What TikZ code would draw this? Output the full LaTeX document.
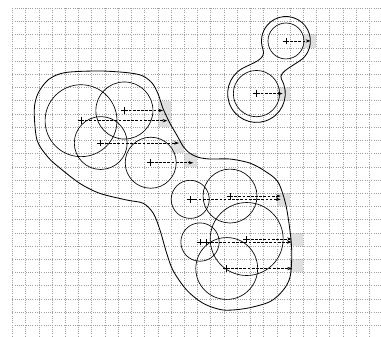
\documentclass[tikz,border=0pt]{standalone}
\usetikzlibrary{arrows.meta, calc}
\tikzset{
  gridline/.style={gray!75, dotted, line width=0.4pt},
  cell/.style={fill=black!12},
  disc/.style={line width=0.7pt},
  outline/.style={line width=0.9pt},
  ray/.style={dash pattern=on 3pt off 1.5pt, line width=0.6pt, -{Stealth[length=5pt, width=3.5pt]}},
  ctr/.style={line width=0.6pt},
}
\begin{document}
\begin{tikzpicture}[scale=0.5]
  \useasboundingbox (-0.93,-0.81) rectangle (27.89,24.61);

  % 塗ったマス
  \foreach \x/\y in {22/21, 20/17, 11/16, 11/15, 12/13, 13/12, 20/9, 21/6, 21/4}
    \fill[cell] (\x,\y) rectangle ++(1,1);

  % 方眼
  \draw[gridline] (0,-0.81) grid (27.89,24);

  % 円の中心
  \coordinate (p) at (20.70,21.51);
  \coordinate (q) at (18.47,17.53);
  \coordinate (a) at (5.20,15.48);
  \coordinate (b) at (8.48,16.25);
  \coordinate (c) at (6.69,13.79);
  \coordinate (d) at (10.47,12.30);
  \coordinate (e) at (13.46,9.53);
  \coordinate (f) at (16.47,9.78);
  \coordinate (g) at (14.20,6.30);
  \coordinate (g2) at (14.71,6.30);
  \coordinate (h) at (17.73,6.53);
  \coordinate (i) at (16.22,4.30);

  % 円
  \draw[disc] (p) circle[radius=1.36];
  \draw[disc] (q) circle[radius=1.75];
  \draw[disc] (a) circle[radius=2.72];
  \draw[disc] (b) circle[radius=2.16];
  \draw[disc] (c) circle[radius=2.00];
  \draw[disc] (d) circle[radius=1.93];
  \draw[disc] (e) circle[radius=1.44];
  \draw[disc] (f) circle[radius=2.04];
  \draw[disc] (g) circle[radius=1.45];
  \draw[disc] (h) circle[radius=2.76];
  \draw[disc] (i) circle[radius=2.34];

  % 中心の十字
  \foreach \n in {p, q, a, b, c, d, e, f, g, g2, h, i}
    \draw[ctr] (\n) +(-0.25,0) -- +(0.25,0) +(0,-0.25) -- +(0,0.25);

  % 右上の外形線
  \draw[outline] ($(p)+(-40:1.85)$) arc[start angle=-40, end angle=200, radius=1.85]
    to[out=290, in=30] ($(q)+(120:2.18)$) arc[start angle=120, end angle=390, radius=2.18]
    to[out=120, in=230, looseness=0.7] ($(p)+(-40:1.85)$) -- cycle;

  % 大きい外形線
  \draw[outline] plot[smooth cycle] coordinates {
    (1.66,16.29) (1.95,17.55) (2.75,18.60) (4.00,19.12) (6.63,19.24)
    (8.90,19.09) (9.90,18.85) (10.60,18.30) (11.05,17.45) (11.40,16.40)
    (11.93,15.28) (12.44,14.40) (12.94,13.51) (13.44,13.01) (14.07,12.71)
    (14.95,12.58) (16.47,12.58) (17.98,12.27) (19.11,11.67) (20.10,10.84)
    (20.70,9.08) (21.06,6.70) (21.14,5.20) (21.01,3.65) (20.50,2.67)
    (19.49,1.79) (17.73,1.29) (15.96,1.16) (14.45,1.66) (13.19,2.67)
    (12.18,4.11) (11.68,5.45) (11.17,7.21) (10.67,8.47) (9.91,9.23)
    (8.65,9.48) (6.63,9.98) (5.12,10.73) (3.61,11.89) (2.70,12.72)
    (1.87,14.01)};

  % 矢印の先
  \coordinate (tp) at (22.55,21.51);
  \coordinate (tq) at (20.45,17.53);
  \coordinate (ta) at (11.72,15.48);
  \coordinate (tb) at (11.40,16.25);
  \coordinate (tc) at (12.60,13.79);
  \coordinate (td) at (13.69,12.30);
  \coordinate (te) at (20.30,9.53);
  \coordinate (tf) at (20.30,9.78);
  \coordinate (tg) at (21.13,6.30);
  \coordinate (th) at (21.13,6.53);
  \coordinate (ti) at (21.16,4.30);

  % 中心から右への矢印
  \draw[ray] (p) -- (tp);
  \draw[ray] (q) -- (tq);
  \draw[ray] (a) -- (ta);
  \draw[ray] (b) -- (tb);
  \draw[ray] (c) -- (tc);
  \draw[ray] (d) -- (td);
  \draw[ray] (e) -- (te);
  \draw[ray] (f) -- (tf);
  \draw[ray] (g2) -- (tg);
  \draw[ray] (h) -- (th);
  \draw[ray] (i) -- (ti);
\end{tikzpicture}
\end{document}
